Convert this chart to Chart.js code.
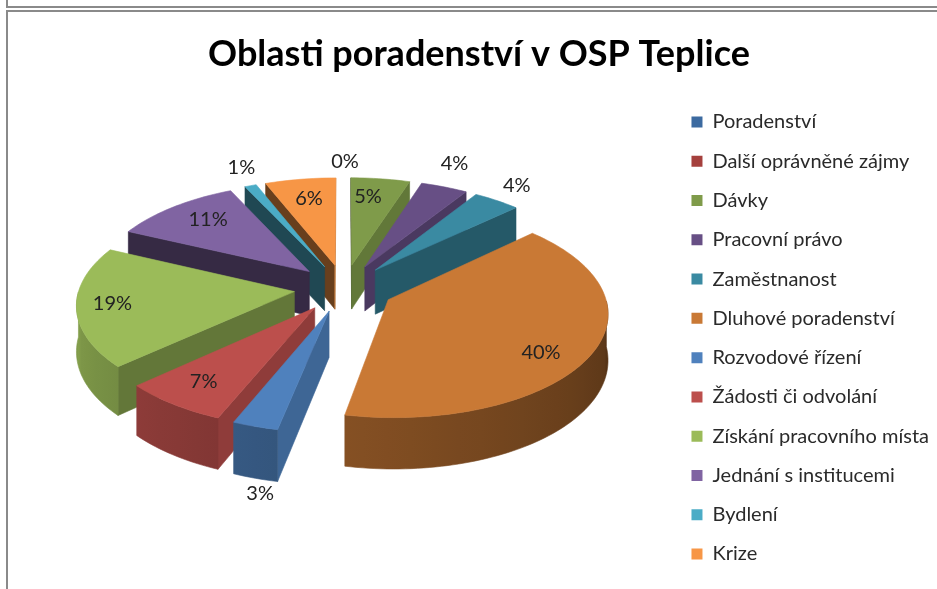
<!DOCTYPE html>
<html><head><meta charset="utf-8">
<script src="https://cdn.jsdelivr.net/npm/chart.js@4"></script>
<style>
html,body{margin:0;padding:0;background:#fff;width:937px;height:589px;overflow:hidden}
#wrap{position:absolute;left:0;top:0;width:937px;height:589px}
.f{position:absolute;background:#8a8a8a}
</style></head><body>
<div id="wrap"><canvas id="c" width="937" height="589"></canvas></div>
<div class="f" style="left:6px;top:0;width:2px;height:8px"></div>
<div class="f" style="left:6px;top:6px;width:931px;height:2px"></div>
<div class="f" style="left:6px;top:10px;width:931px;height:2px"></div>
<div class="f" style="left:6px;top:10px;width:2px;height:579px"></div>
<script>
const chartTitle = 'Oblasti poradenství v OSP Teplice';
const categories = ['Poradenství','Další oprávněné zájmy','Dávky','Pracovní právo','Zaměstnanost','Dluhové poradenství','Rozvodové řízení','Žádosti či odvolání','Získání pracovního místa','Jednání s institucemi','Bydlení','Krize'];
const values = [0,0,5,4,4,40.2,3,7,18.8,11,1,6];
const colors = ['#3C6AA0','#A5403D','#7F9B4A','#674F85','#3A8AA2','#C97935','#4F81BD','#BC4F4C','#9BBB59','#8064A2','#4BACC6','#F79646'];

// view of the tilted pie plane
const view = {cx:344, cy:288, k:0.00052, s:0.474, depth:45};
// hand placement of the value labels, per category, in pixels
const labelNudge = [[0,0],[1,-1],[-6,-1],[-4,-9],[-2,-2],[0,12],[22,-13],[-6,2],[-17,0],[4,-2],[4,-4],[1,0]];

function project(u,v,z){
  const w = 1 - view.k*v;
  return [view.cx + u/w, view.cy + (view.s*v + z)/w];
}
function shade(hex,f){
  const n=parseInt(hex.slice(1),16);
  return `rgb(${Math.round((n>>16&255)*f)},${Math.round((n>>8&255)*f)},${Math.round((n&255)*f)})`;
}
function poly(ctx,pts,fill){
  ctx.beginPath();
  pts.forEach((p,i)=> i?ctx.lineTo(p[0],p[1]):ctx.moveTo(p[0],p[1]));
  ctx.closePath();
  ctx.fillStyle=fill; ctx.strokeStyle=fill; ctx.lineWidth=.6;
  ctx.fill(); ctx.stroke();
}
function geom(el){
  const mid=(el.startAngle+el.endAngle)/2, o=el.options.offset;
  const ox=Math.cos(mid)*o, oy=Math.sin(mid)*o, R=el.outerRadius;
  return {mid,o,ox,oy,R,at:(a,r)=>[ox+Math.cos(a)*r, oy+Math.sin(a)*r]};
}
function outerShade(a){
  let deg=(a+Math.PI/2)*180/Math.PI; deg=(deg+720)%360;
  return Math.max(.4,Math.min(.9,.42+.0024*(deg-90)));
}
const pie3d = {
  id:'pie3d',
  beforeDatasetDraw(chart,args){
    const ctx=chart.ctx, d=view.depth;
    const meta=args.meta;
    const eyeV=1/view.k;
    const els=meta.data.map((el,i)=>({el,i})).filter(e=>values[e.i]>0);
    els.sort((a,b)=>Math.sin((a.el.startAngle+a.el.endAngle)/2)-Math.sin((b.el.startAngle+b.el.endAngle)/2));
    ctx.save();
    for(const {el,i} of els){
      const g=geom(el), col=colors[i];
      const A=[g.ox,g.oy];
      const rim=[];
      const n=Math.max(4,Math.ceil((el.endAngle-el.startAngle)*40));
      for(let j=0;j<=n;j++){
        const a=el.startAngle+(el.endAngle-el.startAngle)*j/n;
        rim.push({a,p:g.at(a,g.R)});
      }
      // radial walls, only those turned towards the viewer
      [[el.startAngle,rim[0].p,1],[el.endAngle,rim[n].p,-1]].forEach(([a,p,sg])=>{
        const nx=Math.sin(a)*sg, nv=-Math.cos(a)*sg;
        if(nx*(0-A[0])+nv*(eyeV-A[1])<=0) return;
        const f=Math.max(.42,.3+.5*nx);
        poly(ctx,[project(A[0],A[1],0),project(p[0],p[1],0),project(p[0],p[1],d),project(A[0],A[1],d)],shade(col,f));
      });
      // curved outer wall, as one band with a gradient along it
      const front=rim.filter(r=>Math.sin(r.a)>0);
      if(front.length>1){
        const top=front.map(r=>project(r.p[0],r.p[1],0));
        const bot=front.map(r=>project(r.p[0],r.p[1],d)).reverse();
        const xs=top.map(p=>p[0]);
        const x0=Math.min(...xs), x1=Math.max(...xs);
        const grad=ctx.createLinearGradient(x0,0,Math.max(x1,x0+1),0);
        front.forEach((r,j)=>{
          if(j%4===0||j===front.length-1) grad.addColorStop(Math.min(1,Math.max(0,(top[j][0]-x0)/Math.max(x1-x0,1))),shade(col,outerShade(r.a)));
        });
        poly(ctx,[...top,...bot],grad);
      }
      // top face
      poly(ctx,[project(A[0],A[1],0),...rim.map(r=>project(r.p[0],r.p[1],0))],col);
    }
    // value labels
    ctx.font='20px Lato'; ctx.textAlign='center'; ctx.textBaseline='middle';
    meta.data.forEach((el,i)=>{
      if(values[i]===0 && i<values.length-1 && values[i+1]===0) return;
      const g=geom(el), inside=values[i]>=5;
      const r=g.R*(inside?.76:1.2);
      const p=g.at(g.mid,r);
      const z=(!inside && Math.sin(g.mid)>0)?d:0;
      const s=project(p[0],p[1],z);
      ctx.fillStyle='#222';
      ctx.fillText(Math.round(values[i])+'%',s[0]+labelNudge[i][0],s[1]+labelNudge[i][1]);
    });
    ctx.restore();
    return false;
  }
};
new Chart(document.getElementById('c'),{
  type:'pie',
  data:{labels:categories,datasets:[{data:values,backgroundColor:colors,offset:50,radius:215,borderWidth:0}]},
  plugins:[pie3d],
  options:{
    responsive:false,animation:false,
    layout:{padding:{left:19,top:33,right:-2,bottom:-54}},
    plugins:{
      title:{display:true,text:chartTitle,color:'#000',font:{family:'Lato',size:36,weight:'bold'},padding:{top:0,bottom:20}},
      tooltip:{enabled:false},
      legend:{position:'right',labels:{color:'#2a2a2a',boxWidth:11,boxHeight:11,padding:19.27,font:{family:'Lato',size:20}}}
    }
  }
});
</script></body></html>
